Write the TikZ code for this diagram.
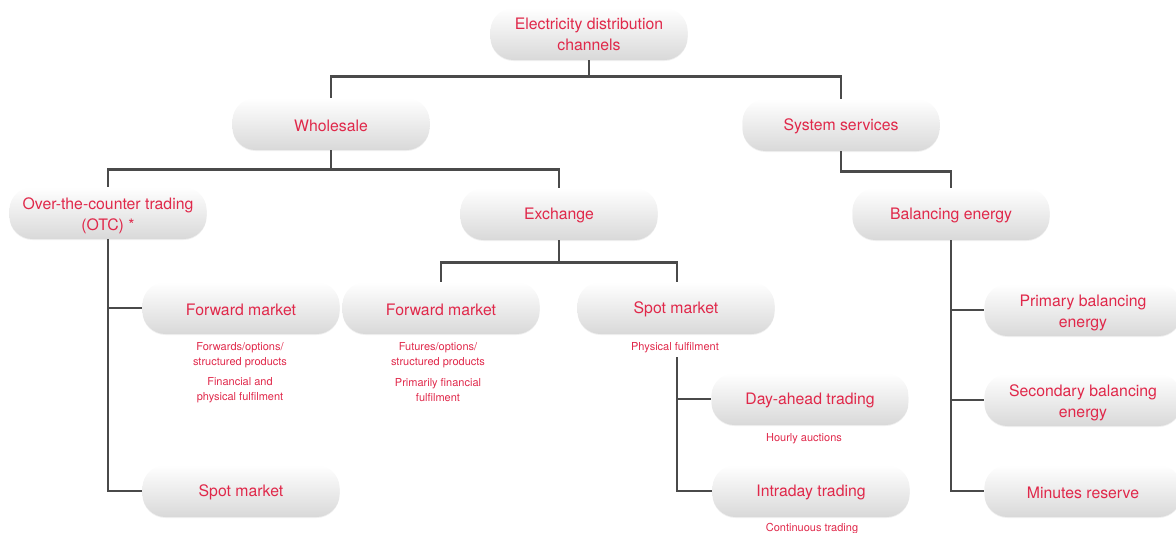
\documentclass[tikz,border=0pt]{standalone}
\usepackage{fontspec}
\setmainfont{TeX Gyre Heros}
\usetikzlibrary{shadows}
\definecolor{txt}{HTML}{E0284A}
\definecolor{ln}{HTML}{4A4A4A}
\newcommand{\dropln}{\rule{0pt}{18pt}}
\tikzset{
 box/.style={rectangle, rounded corners=23pt, minimum width=197pt, minimum height=52pt,
   top color=white, bottom color=black!15, draw=none, text=txt,
   font=\fontsize{15.8}{21}\selectfont, align=center, inner sep=0pt,
   execute at begin node={\rule{0pt}{15pt}},
   drop shadow={opacity=0.12, shadow xshift=0pt, shadow yshift=-1pt}},
 sub/.style={text=txt, font=\fontsize{11}{15}\selectfont, align=center, inner sep=0pt},
 conn/.style={draw=ln, line width=2.8pt}
}
\begin{document}
\begin{tikzpicture}[x=1pt,y=-1pt]
\useasboundingbox (0,0) rectangle (1176,533);
\node[box] (root) at (589,34) {Electricity distribution\\channels};
\node[box] (whole) at (331,124) {Wholesale};
\node[box] (sys) at (841,125) {System services};
\node[box] (otc) at (108,213) {\dropln Over-the-counter trading\\(OTC) *};
\node[box] (exch) at (559,214) {Exchange};
\node[box] (bal) at (951,214) {Balancing energy};
\node[box] (fwdo) at (241,308) {Forward market};
\node[box] (fwde) at (441,308) {Forward market};
\node[box] (spote) at (676,308) {Spot market};
\node[box] (day) at (810,399) {Day-ahead trading};
\node[box] (intra) at (811,491) {Intraday trading};
\node[box] (spoto) at (241,491) {Spot market};
\node[box] (prim) at (1083,310) {\dropln Primary balancing\\energy};
\node[box] (sec) at (1083,400) {\dropln Secondary balancing\\energy};
\node[box] (mins) at (1083,491) {Minutes reserve};

\node[sub] (fo1) at (240,355.5) {Forwards/options/\\structured products};
\node[sub] (fo2) at (240,390.5) {Financial and\\physical fulfilment};
\node[sub] (fe1) at (438,355.5) {Futures/options/\\structured products};
\node[sub] (fe2) at (438,390.5) {Primarily financial\\fulfilment};
\node[sub] (se1) at (675,348) {Physical fulfilment};
\node[sub] (da1) at (804,439) {Hourly auctions};
\node[sub] (in1) at (812,529) {Continuous trading};

\coordinate (spj) at (677,357);

\draw[conn] (root.south) -- ++(0,16) -| (whole.north);
\draw[conn] (root.south) -- ++(0,16) -| (sys.north);
\draw[conn] (whole.south) -- ++(0,19) -| (otc.north);
\draw[conn] (whole.south) -- ++(0,19) -| (exch.north);
\draw[conn] (sys.south) -- ++(0,20) -| (bal.north);
\draw[conn] (exch.south) -- ++(0,22) -| (fwde.north);
\draw[conn] (exch.south) -- ++(0,22) -| (spote.north -| spj);
\draw[conn] (otc.south) |- (fwdo.west);
\draw[conn] (otc.south) |- (spoto.west);
\draw[conn] (spj) |- (day.west);
\draw[conn] (spj) |- (intra.west);
\draw[conn] (bal.south) |- (prim.west);
\draw[conn] (bal.south) |- (sec.west);
\draw[conn] (bal.south) |- (mins.west);
\end{tikzpicture}
\end{document}
